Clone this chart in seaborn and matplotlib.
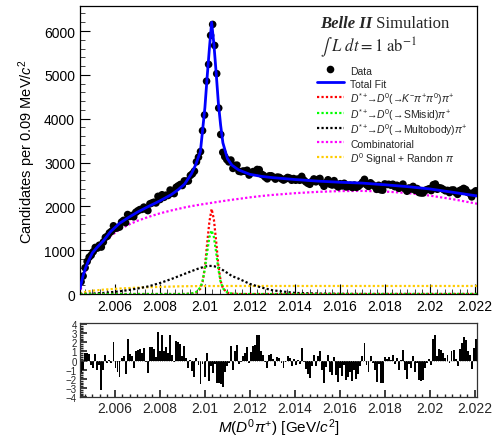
import numpy as np
import pandas as pd
import matplotlib
matplotlib.use("Agg")
import matplotlib.pyplot as plt
from matplotlib.ticker import MultipleLocator, FuncFormatter
import seaborn as sns

# --- histogram of M(D0 pi+), 0.09 MeV bins starting at threshold ---
bin_lo = 2.00445
bin_width = 0.00009

data_counts = [
    280, 409, 599, 742, 840, 885, 965, 1062, 1047, 1113,
    1071, 1185, 1292, 1319, 1394, 1429, 1556, 1499, 1513, 1528,
    1642, 1680, 1628, 1813, 1769, 1791, 1761, 1863, 1897, 1926,
    1930, 1982, 1936, 1903, 2057, 2077, 2094, 2078, 2228, 2156,
    2264, 2206, 2255, 2248, 2372, 2299, 2290, 2436, 2468, 2498,
    2475, 2580, 2575, 2579, 2705, 2742, 2803, 3016, 3122, 3249,
    3726, 4083, 4855, 5239, 5900, 6150, 5670, 5027, 4242, 3639,
    3232, 3132, 3066, 3014, 3056, 2866, 2934, 2940, 2799, 2789,
    2806, 2802, 2823, 2714, 2767, 2793, 2788, 2841, 2836, 2737,
    2711, 2665, 2628, 2696, 2696, 2665, 2621, 2668, 2660, 2627,
    2599, 2626, 2659, 2645, 2596, 2634, 2596, 2623, 2595, 2683,
    2600, 2559, 2526, 2503, 2566, 2625, 2560, 2614, 2636, 2531,
    2458, 2542, 2606, 2506, 2487, 2586, 2481, 2443, 2516, 2467,
    2526, 2443, 2455, 2482, 2429, 2486, 2433, 2455, 2497, 2549,
    2616, 2493, 2455, 2537, 2494, 2456, 2388, 2480, 2377, 2369,
    2511, 2497, 2503, 2483, 2504, 2449, 2480, 2411, 2461, 2507,
    2398, 2345, 2419, 2395, 2455, 2367, 2406, 2314, 2305, 2305,
    2365, 2383, 2402, 2360, 2492, 2510, 2390, 2424, 2413, 2385,
    2355, 2364, 2314, 2370, 2374, 2319, 2274, 2359, 2381, 2409,
    2384, 2319, 2294, 2216, 2318, 2354,
]

pulls = [
    -1.2, -1.0, 0.8, 0.8, 0.7, -0.5, -0.8, 0.7, -1.0, -0.5,
    -3.2, -1.0, 0.6, -0.3, 0.1, -0.3, 2.0, -0.8, -1.2, -1.8,
    0.3, 0.5, -1.5, 2.4, 0.7, 0.5, -0.8, 1.0, 1.2, 1.3,
    0.8, 1.4, -0.2, -1.4, 1.5, 1.5, 1.3, 0.4, 3.1, 1.0,
    2.8, 1.0, 1.5, 0.8, 2.8, 0.6, -0.2, 2.1, 2.0, 1.8,
    0.5, 1.6, 0.3, -0.8, 0.1, -1.1, -1.8, 0.3, -0.5, -2.6,
    -0.4, -1.8, 0.8, -2.2, -0.6, -1.4, -0.4, -2.4, -2.4, -2.6,
    -2.9, -1.2, -0.6, -0.3, 1.6, -1.0, 1.0, 1.7, -0.4, -0.2,
    0.5, 0.8, 1.5, -0.3, 0.9, 1.6, 1.7, 2.8, 2.8, 1.0,
    0.6, -0.2, -0.8, 0.6, 0.7, 0.2, -0.6, 0.4, 0.3, -0.3,
    -0.8, -0.2, 0.5, 0.3, -0.6, 0.2, -0.5, 0.1, -0.4, 1.4,
    -0.2, -0.9, -1.5, -1.9, -0.6, 0.6, -0.6, 0.5, 1.0, -1.0,
    -2.4, -0.7, 0.6, -1.3, -1.6, 0.4, -1.6, -2.3, -0.8, -1.7,
    -0.5, -2.1, -1.8, -1.2, -2.2, -1.0, -2.0, -1.5, -0.6, 0.5,
    1.9, -0.5, -1.2, 0.5, -0.3, -1.0, -2.3, -0.4, -2.4, -2.5,
    0.4, 0.2, 0.4, 0.1, 0.6, -0.4, 0.3, -1.0, 0.1, 1.1,
    -1.0, -2.0, -0.4, -0.8, 0.5, -1.2, -0.3, -2.1, -2.2, -2.1,
    -0.8, -0.3, 0.2, -0.5, 2.3, 2.8, 0.5, 1.3, 1.2, 0.8,
    0.3, 0.6, -0.3, 1.0, 1.2, 0.2, -0.6, 1.3, 1.9, 2.6,
    2.2, 1.0, 0.6, -0.9, 1.4, 2.3,
]

# --- fit model components ---
curve_mass = [2.00445, 2.0045, 2.0046, 2.0047, 2.0048, 2.0050, 2.0052, 2.0055, 2.0058, 2.0062,
              2.0066, 2.0070, 2.0075, 2.0080, 2.0085, 2.0088, 2.0091, 2.0094, 2.0096, 2.0098,
              2.0099, 2.0100, 2.0101, 2.0102, 2.0103, 2.0104, 2.0105, 2.0106, 2.0107, 2.0108,
              2.0110, 2.0112, 2.0115, 2.0120, 2.0125, 2.0130, 2.0140, 2.0150, 2.0160, 2.0170,
              2.0180, 2.0190, 2.0200, 2.0210, 2.0221]
total_fit = [120, 240, 450, 600, 730, 940, 1060, 1220, 1420, 1610,
             1745, 1867, 2000, 2125, 2265, 2375, 2510, 2740, 2960, 3250,
             3750, 4250, 4950, 5600, 6200, 5700, 5050, 4350, 3850, 3450,
             3090, 2940, 2830, 2730, 2685, 2655, 2612, 2576, 2550, 2530,
             2492, 2450, 2397, 2322, 2237]
comb = [0, 150, 380, 540, 680, 890, 1040, 1180, 1320, 1470,
        1580, 1670, 1760, 1840, 1905, 1940, 1975, 2005, 2022, 2040,
        2048, 2056, 2064, 2072, 2080, 2088, 2096, 2104, 2112, 2120,
        2135, 2150, 2170, 2205, 2235, 2260, 2300, 2330, 2348, 2352,
        2338, 2305, 2245, 2165, 2060]
kpipi0 = [0, 0, 0, 0, 0, 0, 0, 0, 0, 0,
          0, 0, 0, 0, 0, 0, 0, 10, 30, 120,
          280, 620, 1150, 1650, 1940, 1700, 1200, 650, 300, 130,
          30, 8, 0, 0, 0, 0, 0, 0, 0, 0,
          0, 0, 0, 0, 0]
smisid = [0, 0, 0, 0, 0, 0, 0, 0, 0, 0,
          0, 0, 0, 0, 0, 0, 0, 10, 40, 150,
          300, 580, 950, 1300, 1450, 1300, 950, 560, 280, 130,
          35, 10, 0, 0, 0, 0, 0, 0, 0, 0,
          0, 0, 0, 0, 0]
multibody = [0, 0, 2, 4, 6, 10, 15, 25, 40, 60,
             90, 125, 175, 250, 340, 400, 460, 520, 560, 595,
             610, 625, 635, 640, 640, 635, 620, 600, 575, 545,
             480, 410, 350, 230, 150, 85, 25, 10, 4, 0,
             0, 0, 0, 0, 0]
rand_pi = [0, 15, 35, 50, 60, 75, 85, 100, 110, 125,
           135, 145, 155, 162, 170, 174, 177, 179, 180, 181,
           181, 181, 182, 182, 182, 182, 182, 182, 183, 183,
           183, 183, 183, 183, 183, 183, 183, 183, 183, 183,
           183, 183, 183, 183, 183]

centers = bin_lo + bin_width * (np.arange(len(data_counts)) + 0.5)
hist = pd.DataFrame({"mass": centers, "counts": data_counts, "pull": pulls})
curves = pd.DataFrame({"mass": curve_mass, "total": total_fit, "comb": comb,
                       "kpipi0": kpipi0, "smisid": smisid, "multibody": multibody,
                       "rand_pi": rand_pi})

sns.set_theme(style="ticks")
plt.rcParams["font.family"] = ["Liberation Sans", "DejaVu Sans"]
plt.rcParams["mathtext.fontset"] = "custom"
plt.rcParams["mathtext.rm"] = "Liberation Sans"
plt.rcParams["mathtext.it"] = "Liberation Sans:italic"
plt.rcParams["mathtext.bf"] = "Liberation Sans:bold"

fig = plt.figure(figsize=(4.99, 4.39), dpi=100)
ax = fig.add_axes([0.160, 0.328, 0.796, 0.656])
rax = fig.add_axes([0.160, 0.093, 0.796, 0.169])

dot = (0, (1, 1))
labels = {
    "kpipi0": r"$D^{*+}\!\!\rightarrow\!\! D^0(\!\rightarrow\!\! K^{-}\pi^{+}\pi^{0})\pi^{+}$",
    "smisid": r"$D^{*+}\!\!\rightarrow\!\! D^0(\!\rightarrow\!$SMisid$)\pi^{+}$",
    "multibody": r"$D^{*+}\!\!\rightarrow\!\! D^0(\!\rightarrow\!$Multobody$)\pi^{+}$",
    "comb": "Combinatorial",
    "rand_pi": r"$D^0$ Signal + Randon $\pi$",
}
colors = {"kpipi0": "#ff0000", "smisid": "#00ff00", "multibody": "black",
          "comb": "#ff00ff", "rand_pi": "#ffcc00"}

for col in ["comb", "rand_pi", "multibody", "kpipi0", "smisid"]:
    sns.lineplot(data=curves, x="mass", y=col, ax=ax, color=colors[col],
                 lw=1.6, linestyle=dot, label=labels[col])

sns.scatterplot(data=hist, x="mass", y="counts", ax=ax, color="black", s=30,
                edgecolor="none", label="Data", zorder=3)
sns.lineplot(data=curves, x="mass", y="total", ax=ax, color="#0000ff", lw=2,
             label="Total Fit", zorder=4)

handles, labs = ax.get_legend_handles_labels()
order = ["Data", "Total Fit"] + [labels[k] for k in ["kpipi0", "smisid", "multibody", "comb", "rand_pi"]]
hmap = dict(zip(labs, handles))
ax.legend([hmap[l] for l in order], order, loc="upper left", bbox_to_anchor=(0.597, 0.797),
          frameon=False, fontsize=7.5, handlelength=2.6, handleheight=1.5,
          labelspacing=0.0, handletextpad=0.6, borderpad=0, borderaxespad=0)

t1 = ax.text(0.605, 0.94, "Belle II", transform=ax.transAxes, family="Liberation Serif",
             weight="bold", style="italic", fontsize=12, va="center")
ax.annotate(" Simulation", xy=(1, 0), xycoords=t1, va="bottom", ha="left",
            family="Liberation Serif", fontsize=12)
ax.text(0.605, 0.86, r"$\int\ L\ dt = 1\ \mathrm{ab}^{-1}$", transform=ax.transAxes,
        math_fontfamily="stix", fontsize=12, va="center")

xlim = (2.00444, 2.0221)
fmt = FuncFormatter(lambda v, p: f"{v:.3f}".rstrip("0").rstrip("."))

ax.set_xlim(xlim)
ax.set_ylim(0, 6570)
ax.xaxis.set_major_locator(MultipleLocator(0.002))
ax.xaxis.set_minor_locator(MultipleLocator(0.002 / 6))
ax.xaxis.set_major_formatter(fmt)
ax.yaxis.set_major_locator(MultipleLocator(1000))
ax.yaxis.set_minor_locator(MultipleLocator(200))
ax.tick_params(which="major", direction="in", length=7, width=0.8, labelsize=10, colors="black")
ax.tick_params(which="minor", direction="in", length=3.5, width=0.6)
ax.set_xlabel("")
ax.set_ylabel("Candidates per 0.09 MeV/$c^2$", fontsize=10.5, color="black")
for s in ax.spines.values():
    s.set_linewidth(0.9)
    s.set_color("black")

# --- pull panel ---
rax.bar(hist["mass"], hist["pull"], width=bin_width * 0.95, color="black", linewidth=0)
rax.axhline(0, color="gray", lw=0.6, ls=":")
rax.set_xlim(xlim)
rax.set_ylim(-4, 4.1)
rax.xaxis.set_major_locator(MultipleLocator(0.002))
rax.xaxis.set_minor_locator(MultipleLocator(0.002 / 6))
rax.xaxis.set_major_formatter(fmt)
rax.yaxis.set_major_locator(MultipleLocator(1))
rax.yaxis.set_minor_locator(MultipleLocator(0.2))
rax.tick_params(axis="x", which="major", direction="in", length=5, labelsize=10, pad=3)
rax.tick_params(axis="x", which="minor", direction="in", length=2.5)
rax.tick_params(axis="y", which="major", direction="in", length=5, labelsize=7, pad=2)
rax.tick_params(axis="y", which="minor", direction="in", length=2.5)
rax.set_ylabel("")
rax.set_xlabel(r"$M(D^0\pi^{+})$ [GeV/$c^2$]", fontsize=11, color="black", labelpad=1)
for s in rax.spines.values():
    s.set_linewidth(0.9)
    s.set_color("#333333")

fig.savefig("out.png", dpi=100)
